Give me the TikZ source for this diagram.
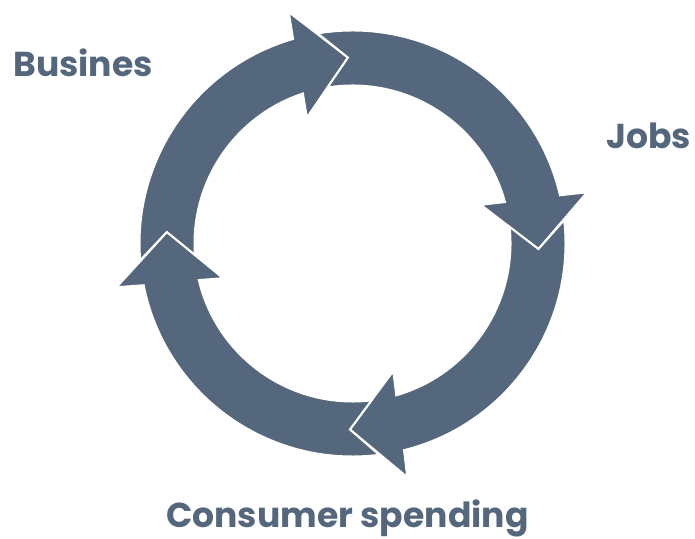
\documentclass[tikz,border=0pt]{standalone}
\usepackage{fontspec}
\newfontfamily\lblfont{Poppins}
\definecolor{slate}{RGB}{84,103,125}
\tikzset{
  seg/.style={fill=slate, draw=white, line width=2pt, line join=miter},
  lbl/.style={text=slate, font=\lblfont\bfseries\fontsize{34.6}{40}\selectfont, inner sep=0pt, anchor=base west}
}
\newcommand\cycseg[2]{%
  \path[seg]
    ({#1+8}:213) arc[start angle={#1+8}, end angle={#2+14.8}, radius=213]
    -- ({#2+14}:240) -- (#2:186) -- ({#2+18.5}:134) -- ({#2+16.9}:158)
    arc[start angle={#2+16.9}, end angle={#1+7.7}, radius=158]
    -- (#1:186) -- cycle;}
\begin{document}
\begin{tikzpicture}[x=1pt,y=1pt]
\useasboundingbox (0,0) rectangle (695,538);
\begin{scope}[shift={(352.5,294.5)}]
  \cycseg{176.5}{91.4}
  \cycseg{91.4}{-1.7}
  \cycseg{-1.7}{-90.8}
  \cycseg{-90.8}{-183.5}
\end{scope}
\node[lbl] (bus) at (13,461) {Busines};
\node[lbl] (jobs) at (606,389) {Jobs};
\node[lbl] (cons) at (166,11) {Consumer spending};
\end{tikzpicture}
\end{document}
